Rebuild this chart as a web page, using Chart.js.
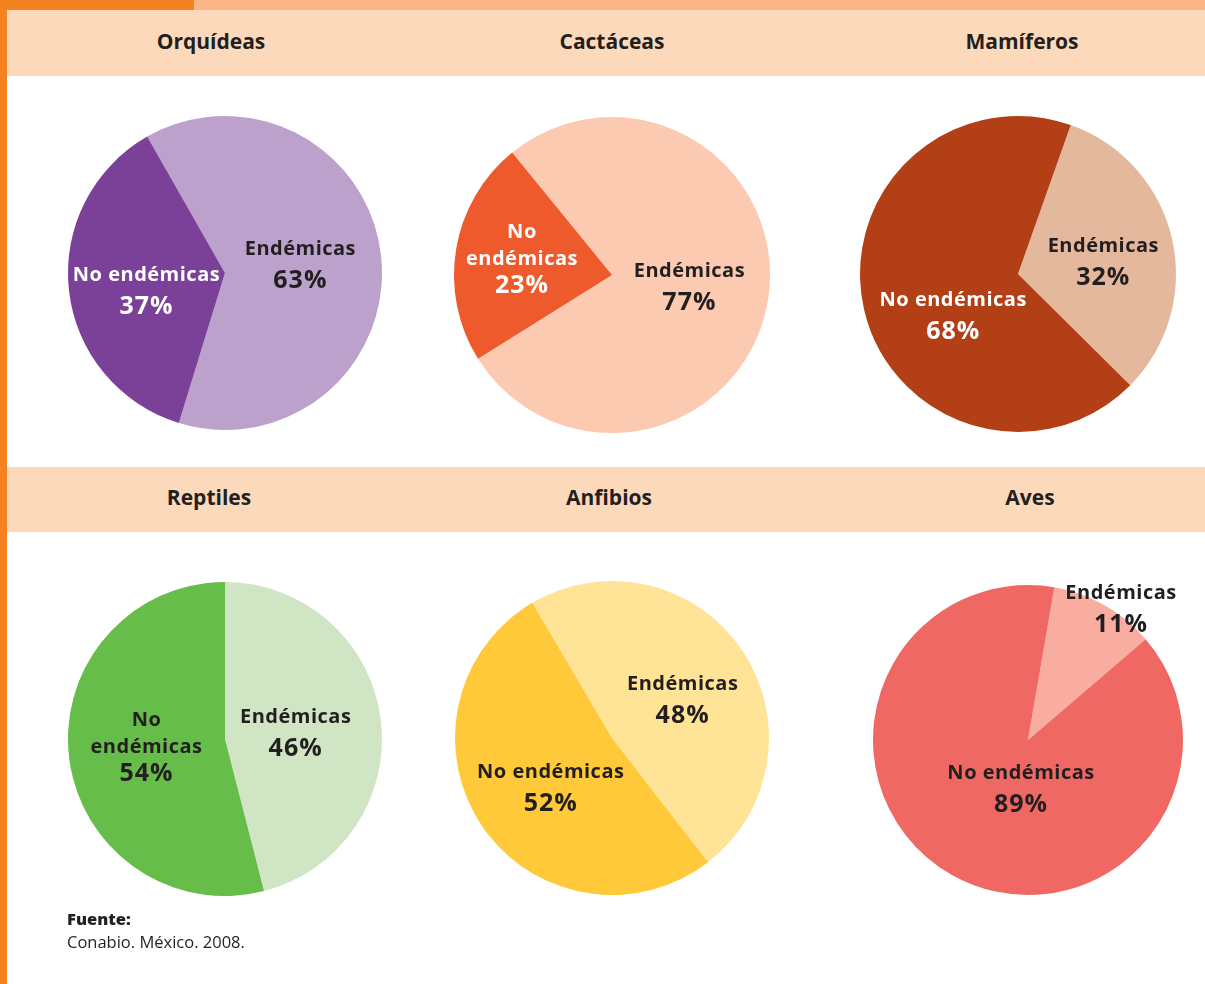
<!DOCTYPE html>
<html lang="es">
<head>
<meta charset="utf-8">
<title>Especies endémicas de México</title>
<script src="https://cdn.jsdelivr.net/npm/chart.js@4.4.1/dist/chart.umd.min.js"></script>
<style>
	html, body { margin: 0; padding: 0; background: #fff; }
	#page { position: relative; width: 1205px; height: 984px; overflow: hidden; font-family: 'Open Sans', sans-serif; color: #231f20; }
	.bar { position: absolute; }
	.band { position: absolute; left: 7px; width: 1198px; height: 65px; background: #fdd9bc; }
	.title { position: absolute; width: 300px; margin-left: -150px; text-align: center; font-size: 21px; font-weight: 700; line-height: 21px; }
	.pie { position: absolute; }
	#source { position: absolute; left: 67px; top: 907px; font-size: 16.5px; line-height: 23px; }
	#source b { font-weight: 800; }
</style>
</head>
<body>
<div id="page">
	<div class="bar" style="left:0;top:0;width:194px;height:10px;background:#f58220"></div>
	<div class="bar" style="left:194px;top:0;width:1011px;height:10px;background:#fbb886"></div>
	<div class="bar" style="left:0;top:0;width:7px;height:984px;background:#f58220"></div>
	<div class="band" style="top:10px;height:66px"></div>
	<div class="band" style="top:467px"></div>
	<div id="charts"></div>
	<div id="source"><b>Fuente:</b><br>Conabio. México. 2008.</div>
</div>
<script>
'use strict';

// data
const categories = [ 'Endémicas', 'No endémicas' ];
const groups = [ 'Orquídeas', 'Cactáceas', 'Mamíferos', 'Reptiles', 'Anfibios', 'Aves' ];
const endemicas = [ 63, 77, 32, 46, 48, 11 ];
const noEndemicas = [ 37, 23, 68, 54, 52, 89 ];

// look of each panel: pie centre, radius, title x, start angle, colours, label spots
const panels = [
	{ cx: 225, cy: 273, r: 157, tx: 211, ty: 31, rotation: -29.7, colors: [ '#bba1cb', '#7b4199' ], ink: [ '#231f20', '#ffffff' ], wrap: [ false, false ], anchors: [ [ 0.48, -0.06 ], [ -0.50, 0.11 ] ] },
	{ cx: 612, cy: 275, r: 158, tx: 612, ty: 31, rotation: -39.2, colors: [ '#fbcab0', '#ee5a2b' ], ink: [ '#231f20', '#ffffff' ], wrap: [ false, true ], anchors: [ [ 0.49, 0.07 ], [ -0.57, -0.11 ] ] },
	{ cx: 1018, cy: 274, r: 158, tx: 1022, ty: 31, rotation: 19.5, colors: [ '#e4b89d', '#b33f17' ], ink: [ '#231f20', '#ffffff' ], wrap: [ false, false ], anchors: [ [ 0.54, -0.08 ], [ -0.41, 0.26 ] ] },
	{ cx: 225, cy: 739, r: 157, tx: 209, ty: 487, rotation: 0, colors: [ '#d0e5c4', '#67bd4a' ], ink: [ '#231f20', '#231f20' ], wrap: [ false, true ], anchors: [ [ 0.45, -0.045 ], [ -0.50, 0.045 ] ] },
	{ cx: 612, cy: 738, r: 157, tx: 609, ty: 487, rotation: -30.5, colors: [ '#ffe497', '#ffc93a' ], ink: [ '#231f20', '#231f20' ], wrap: [ false, false ], anchors: [ [ 0.45, -0.25 ], [ -0.39, 0.31 ] ] },
	{ cx: 1028, cy: 740, r: 155, tx: 1030, ty: 487, rotation: 9.8, colors: [ '#f8ada0', '#f06864' ], ink: [ '#231f20', '#231f20' ], wrap: [ false, false ], anchors: [ [ 0.60, -0.85 ], [ -0.045, 0.31 ] ] },
];

const BOX = 360;

const sliceLabels = {
	id: 'sliceLabels',
	afterDatasetsDraw( chart ) {
		const opts = chart.options.plugins.sliceLabels;
		const ctx = chart.ctx;
		const values = chart.data.datasets[ 0 ].data;

		chart.getDatasetMeta( 0 ).data.forEach( ( arc, i ) => {
			const { x, y, outerRadius } = arc.getProps( [ 'x', 'y', 'outerRadius' ], true );
			const lx = x + opts.anchors[ i ][ 0 ] * outerRadius;
			const ly = y + opts.anchors[ i ][ 1 ] * outerRadius;
			const name = chart.data.labels[ i ];
			const lines = opts.wrap[ i ] ? name.split( ' ' ) : [ name ];
			const offsets = lines.length > 1 ? [ -20, 7, 35 ] : [ -9, 24 ];

			ctx.save();
			ctx.fillStyle = opts.ink[ i ];
			ctx.textAlign = 'center';
			ctx.textBaseline = 'alphabetic';
			ctx.letterSpacing = '0.5px';
			ctx.font = '700 20px "Open Sans", sans-serif';
			lines.forEach( ( line, k ) => {
				ctx.fillText( line, lx, ly + offsets[ k ] );
			} );
			ctx.letterSpacing = '1px';
			ctx.font = '700 25px "Open Sans", sans-serif';
			ctx.fillText( values[ i ] + '%', lx, ly + offsets[ lines.length ] );
			ctx.restore();
		} );
	},
};

const holder = document.getElementById( 'charts' );

groups.forEach( ( group, i ) => {
	const p = panels[ i ];

	const title = document.createElement( 'div' );
	title.className = 'title';
	title.style.left = p.tx + 'px';
	title.style.top = p.ty + 'px';
	title.textContent = group;
	holder.appendChild( title );

	const canvas = document.createElement( 'canvas' );
	canvas.className = 'pie';
	canvas.width = BOX;
	canvas.height = BOX;
	canvas.style.left = ( p.cx - BOX / 2 ) + 'px';
	canvas.style.top = ( p.cy - BOX / 2 ) + 'px';
	holder.appendChild( canvas );

	new Chart( canvas, {
		type: 'pie',
		data: {
			labels: categories,
			datasets: [
				{
					data: [ endemicas[ i ], noEndemicas[ i ] ],
					backgroundColor: p.colors,
					borderWidth: 0,
				},
			],
		},
		options: {
			responsive: false,
			animation: false,
			events: [],
			rotation: p.rotation,
			layout: { padding: BOX / 2 - p.r },
			plugins: {
				legend: { display: false },
				tooltip: { enabled: false },
				sliceLabels: { anchors: p.anchors, ink: p.ink, wrap: p.wrap },
			},
		},
		plugins: [ sliceLabels ],
	} );
} );
</script>
</body>
</html>
